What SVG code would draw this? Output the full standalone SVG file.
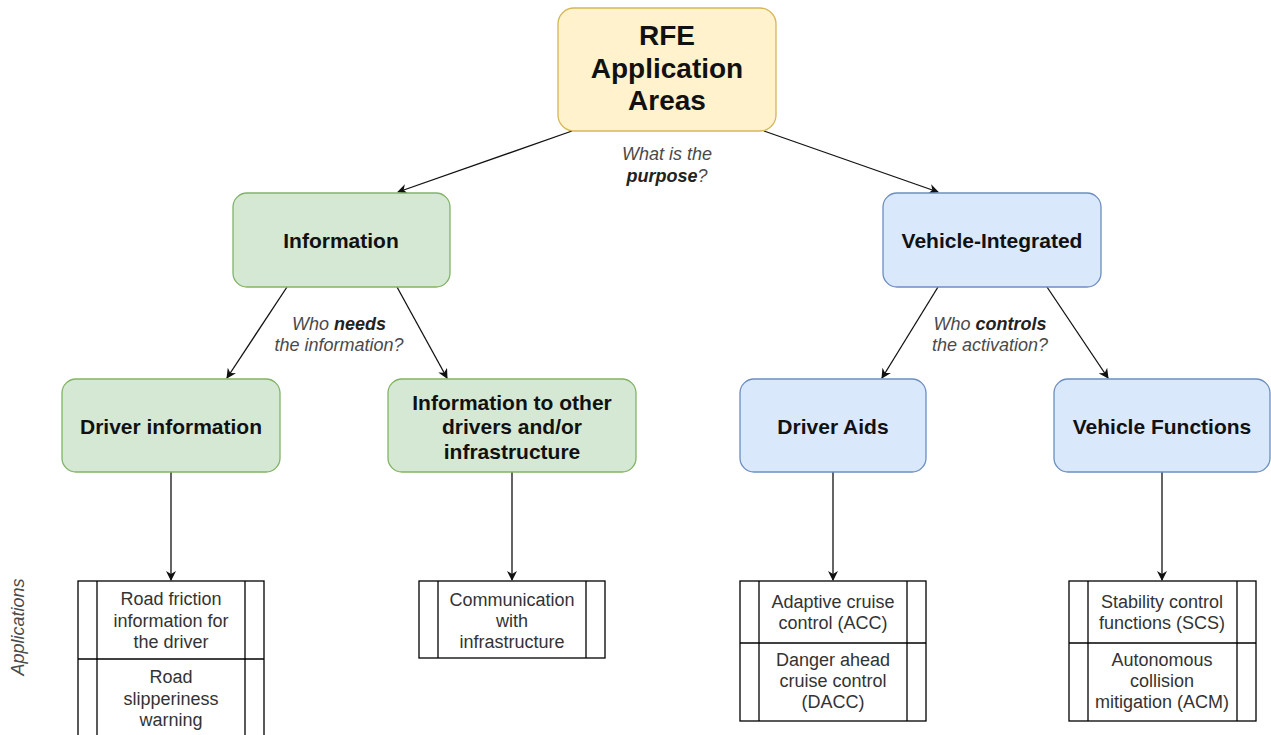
<svg xmlns="http://www.w3.org/2000/svg" width="1271" height="735" viewBox="0 0 1271 735">
  <style>
    .root { fill: #fff2cc; stroke: #d6b656; stroke-width: 1.3; }
    .green { fill: #d5e8d4; stroke: #82b366; stroke-width: 1.3; }
    .blue { fill: #dae8fc; stroke: #6c8ebf; stroke-width: 1.3; }
    .title { font-family: "Liberation Sans", Arial, sans-serif; font-weight: bold; font-size: 21px; fill: #111; text-anchor: middle; }
    .rootTitle { font-family: "Liberation Sans", Arial, sans-serif; font-weight: bold; font-size: 28px; fill: #111; text-anchor: middle; }
    .cell { fill: #fff; stroke: #000; stroke-width: 1.3; }
    .div { stroke: #000; stroke-width: 1.3; fill: none; }
    .item { font-family: "Liberation Sans", Arial, sans-serif; font-size: 18px; fill: #333; text-anchor: middle; }
    .lbl { font-family: "Liberation Sans", Arial, sans-serif; font-style: italic; font-size: 18px; fill: #4a4a4a; text-anchor: middle; }
    .lbl tspan.b { font-weight: bold; fill: #222; }
    .edge { stroke: #111; stroke-width: 1.3; fill: none; marker-end: url(#arrow); }
  </style>
  <defs>
    <marker id="arrow" viewBox="0 0 10 10" refX="9" refY="5" markerWidth="10" markerHeight="10" markerUnits="userSpaceOnUse" orient="auto">
      <path d="M0,0 L10,5 L0,10 L3,5 Z" fill="#111"/>
    </marker>
  </defs>

  <rect width="1271" height="735" fill="#fff"/>

  <!-- connectors -->
  <g id="connectors">
    <line class="edge" x1="572" y1="131" x2="398" y2="192"/>
    <line class="edge" x1="764" y1="131" x2="938" y2="192"/>
    <line class="edge" x1="287" y1="287" x2="227" y2="378"/>
    <line class="edge" x1="397" y1="287" x2="447" y2="378"/>
    <line class="edge" x1="938" y1="287" x2="882" y2="378"/>
    <line class="edge" x1="1047" y1="287" x2="1108" y2="378"/>
    <line class="edge" x1="171" y1="472" x2="171" y2="580"/>
    <line class="edge" x1="512" y1="472" x2="512" y2="580"/>
    <line class="edge" x1="833" y1="472" x2="833" y2="580"/>
    <line class="edge" x1="1162" y1="472" x2="1162" y2="580"/>
  </g>

  <!-- edge labels -->
  <g id="edge-labels">
    <text class="lbl" x="667" y="160">What is the</text>
    <text class="lbl" x="667" y="182"><tspan class="b">purpose</tspan>?</text>
    <text class="lbl" x="339" y="330">Who <tspan class="b">needs</tspan></text>
    <text class="lbl" x="339" y="351">the information?</text>
    <text class="lbl" x="990" y="330">Who <tspan class="b">controls</tspan></text>
    <text class="lbl" x="990" y="351">the activation?</text>
  </g>

  <!-- root -->
  <g id="root">
    <rect class="root" x="558" y="8" width="218" height="123" rx="16"/>
    <text class="rootTitle" x="667" y="45">RFE</text>
    <text class="rootTitle" x="667" y="78">Application</text>
    <text class="rootTitle" x="667" y="110">Areas</text>
  </g>

  <g id="information">
    <rect class="green" x="233" y="193" width="217" height="94" rx="14"/>
    <text class="title" x="341" y="248">Information</text>
  </g>

  <g id="vehicle-integrated">
    <rect class="blue" x="883" y="193" width="218" height="94" rx="14"/>
    <text class="title" x="992" y="248">Vehicle-Integrated</text>
  </g>

  <g id="driver-information">
    <rect class="green" x="62" y="379" width="218" height="93" rx="14"/>
    <text class="title" x="171" y="434">Driver information</text>
  </g>

  <g id="information-others">
    <rect class="green" x="388" y="379" width="248" height="93" rx="14"/>
    <text class="title" x="512" y="410">Information to other</text>
    <text class="title" x="512" y="434">drivers and/or</text>
    <text class="title" x="512" y="459">infrastructure</text>
  </g>

  <g id="driver-aids">
    <rect class="blue" x="740" y="379" width="186" height="93" rx="14"/>
    <text class="title" x="833" y="434">Driver Aids</text>
  </g>

  <g id="vehicle-functions">
    <rect class="blue" x="1054" y="379" width="216" height="93" rx="14"/>
    <text class="title" x="1162" y="434">Vehicle Functions</text>
  </g>

  <!-- application lists -->
  <g id="apps-driver-information">
    <rect class="cell" x="78" y="581" width="186" height="160"/>
    <line class="div" x1="97" y1="581" x2="97" y2="741"/>
    <line class="div" x1="245" y1="581" x2="245" y2="741"/>
    <line class="div" x1="78" y1="659" x2="264" y2="659"/>
    <text class="item" x="171" y="605">Road friction</text>
    <text class="item" x="171" y="627">information for</text>
    <text class="item" x="171" y="648">the driver</text>
    <text class="item" x="171" y="683">Road</text>
    <text class="item" x="171" y="705">slipperiness</text>
    <text class="item" x="171" y="726">warning</text>
  </g>

  <g id="apps-information-others">
    <rect class="cell" x="419" y="581" width="186" height="77"/>
    <line class="div" x1="438" y1="581" x2="438" y2="658"/>
    <line class="div" x1="586" y1="581" x2="586" y2="658"/>
    <text class="item" x="512" y="606">Communication</text>
    <text class="item" x="512" y="627">with</text>
    <text class="item" x="512" y="648">infrastructure</text>
  </g>

  <g id="apps-driver-aids">
    <rect class="cell" x="740" y="581" width="186" height="140"/>
    <line class="div" x1="759" y1="581" x2="759" y2="721"/>
    <line class="div" x1="907" y1="581" x2="907" y2="721"/>
    <line class="div" x1="740" y1="643" x2="926" y2="643"/>
    <text class="item" x="833" y="608">Adaptive cruise</text>
    <text class="item" x="833" y="629">control (ACC)</text>
    <text class="item" x="833" y="666">Danger ahead</text>
    <text class="item" x="833" y="687">cruise control</text>
    <text class="item" x="833" y="708">(DACC)</text>
  </g>

  <g id="apps-vehicle-functions">
    <rect class="cell" x="1069" y="581" width="187" height="140"/>
    <line class="div" x1="1088" y1="581" x2="1088" y2="721"/>
    <line class="div" x1="1237" y1="581" x2="1237" y2="721"/>
    <line class="div" x1="1069" y1="643" x2="1256" y2="643"/>
    <text class="item" x="1162" y="608">Stability control</text>
    <text class="item" x="1162" y="629">functions (SCS)</text>
    <text class="item" x="1162" y="666">Autonomous</text>
    <text class="item" x="1162" y="687">collision</text>
    <text class="item" x="1162" y="708">mitigation (ACM)</text>
  </g>

  <g id="applications-label">
    <text class="lbl" transform="translate(24,627) rotate(-90)">Applications</text>
  </g>
</svg>
